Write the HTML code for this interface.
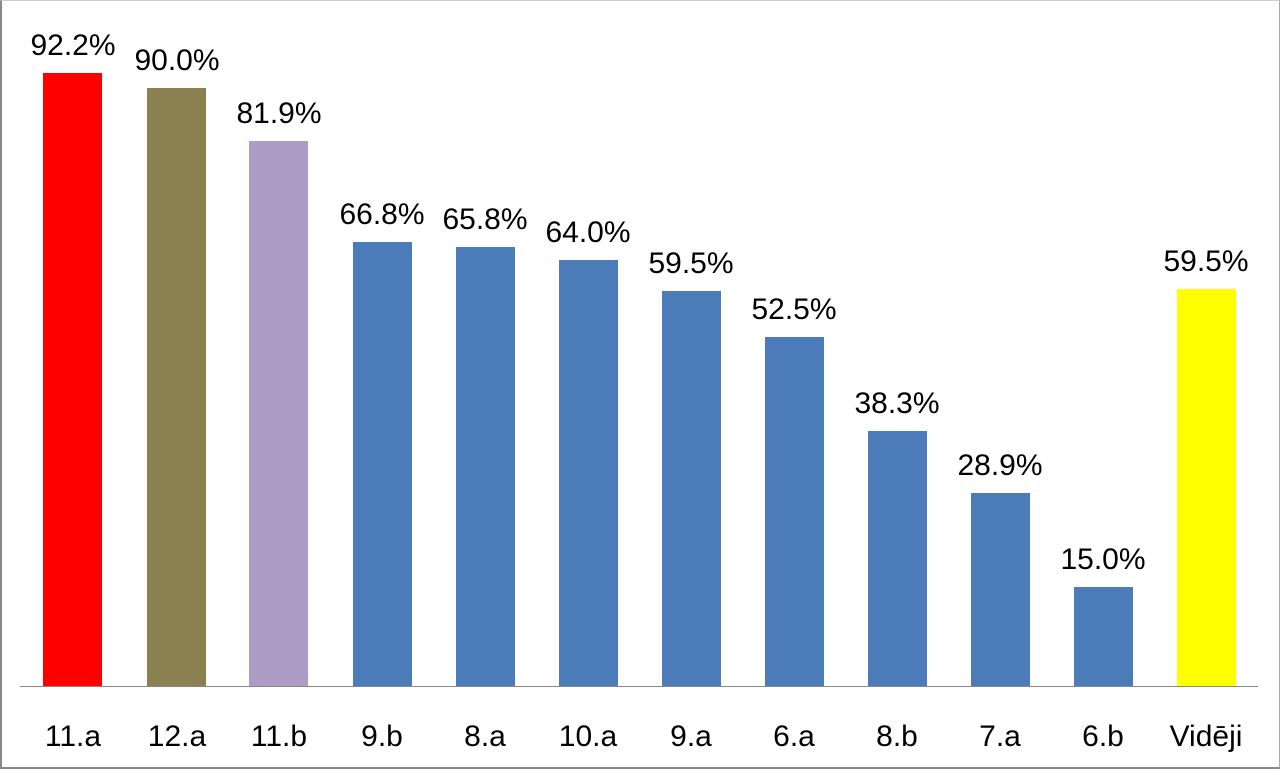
<!DOCTYPE html>
<html><head><style>
html,body{margin:0;padding:0;}
body{width:1280px;height:769px;position:relative;background:#fff;overflow:hidden;font-family:"Liberation Sans",sans-serif;color:#000;}
.frame{position:absolute;left:0;top:0;border-left:2px solid #888;border-bottom:2px solid #888;border-right:1px solid #aaa;border-top:1px solid #ccc;box-sizing:border-box;width:1280px;height:769px;}
.axis{position:absolute;left:20px;width:1238px;top:686px;height:1px;background:#888;}
.bar{position:absolute;width:59px;bottom:83px;}
.v{position:absolute;width:160px;text-align:center;font-size:30px;line-height:34px;}
.l{position:absolute;width:160px;text-align:center;font-size:30px;line-height:34px;top:720px;}
</style></head><body>
<div class="frame"></div>
<div class="axis"></div>
<div class="bar" style="left:43px;top:73px;background:#ff0000"></div>
<div class="bar" style="left:147px;top:88px;background:#8b8150"></div>
<div class="bar" style="left:249px;top:141px;background:#af9cc6"></div>
<div class="bar" style="left:353px;top:242px;background:#4c7bba"></div>
<div class="bar" style="left:456px;top:247px;background:#4c7bba"></div>
<div class="bar" style="left:559px;top:260px;background:#4c7bba"></div>
<div class="bar" style="left:662px;top:291px;background:#4c7bba"></div>
<div class="bar" style="left:765px;top:337px;background:#4c7bba"></div>
<div class="bar" style="left:868px;top:431px;background:#4c7bba"></div>
<div class="bar" style="left:971px;top:493px;background:#4c7bba"></div>
<div class="bar" style="left:1074px;top:587px;background:#4c7bba"></div>
<div class="bar" style="left:1177px;top:289px;background:#ffff00"></div>

<div class="v" style="left:-7px;top:29px">92.2%</div>
<div class="v" style="left:97px;top:44px">90.0%</div>
<div class="v" style="left:199px;top:97px">81.9%</div>
<div class="v" style="left:302px;top:198px">66.8%</div>
<div class="v" style="left:405px;top:203px">65.8%</div>
<div class="v" style="left:508px;top:216px">64.0%</div>
<div class="v" style="left:611px;top:247px">59.5%</div>
<div class="v" style="left:714px;top:293px">52.5%</div>
<div class="v" style="left:817px;top:387px">38.3%</div>
<div class="v" style="left:920px;top:449px">28.9%</div>
<div class="v" style="left:1023px;top:543px">15.0%</div>
<div class="v" style="left:1126px;top:245px">59.5%</div>

<div class="l" style="left:-7px">11.a</div>
<div class="l" style="left:97px">12.a</div>
<div class="l" style="left:199px">11.b</div>
<div class="l" style="left:302px">9.b</div>
<div class="l" style="left:405px">8.a</div>
<div class="l" style="left:508px">10.a</div>
<div class="l" style="left:611px">9.a</div>
<div class="l" style="left:714px">6.a</div>
<div class="l" style="left:817px">8.b</div>
<div class="l" style="left:920px">7.a</div>
<div class="l" style="left:1023px">6.b</div>
<div class="l" style="left:1126px">Vidēji</div>
</body></html>
